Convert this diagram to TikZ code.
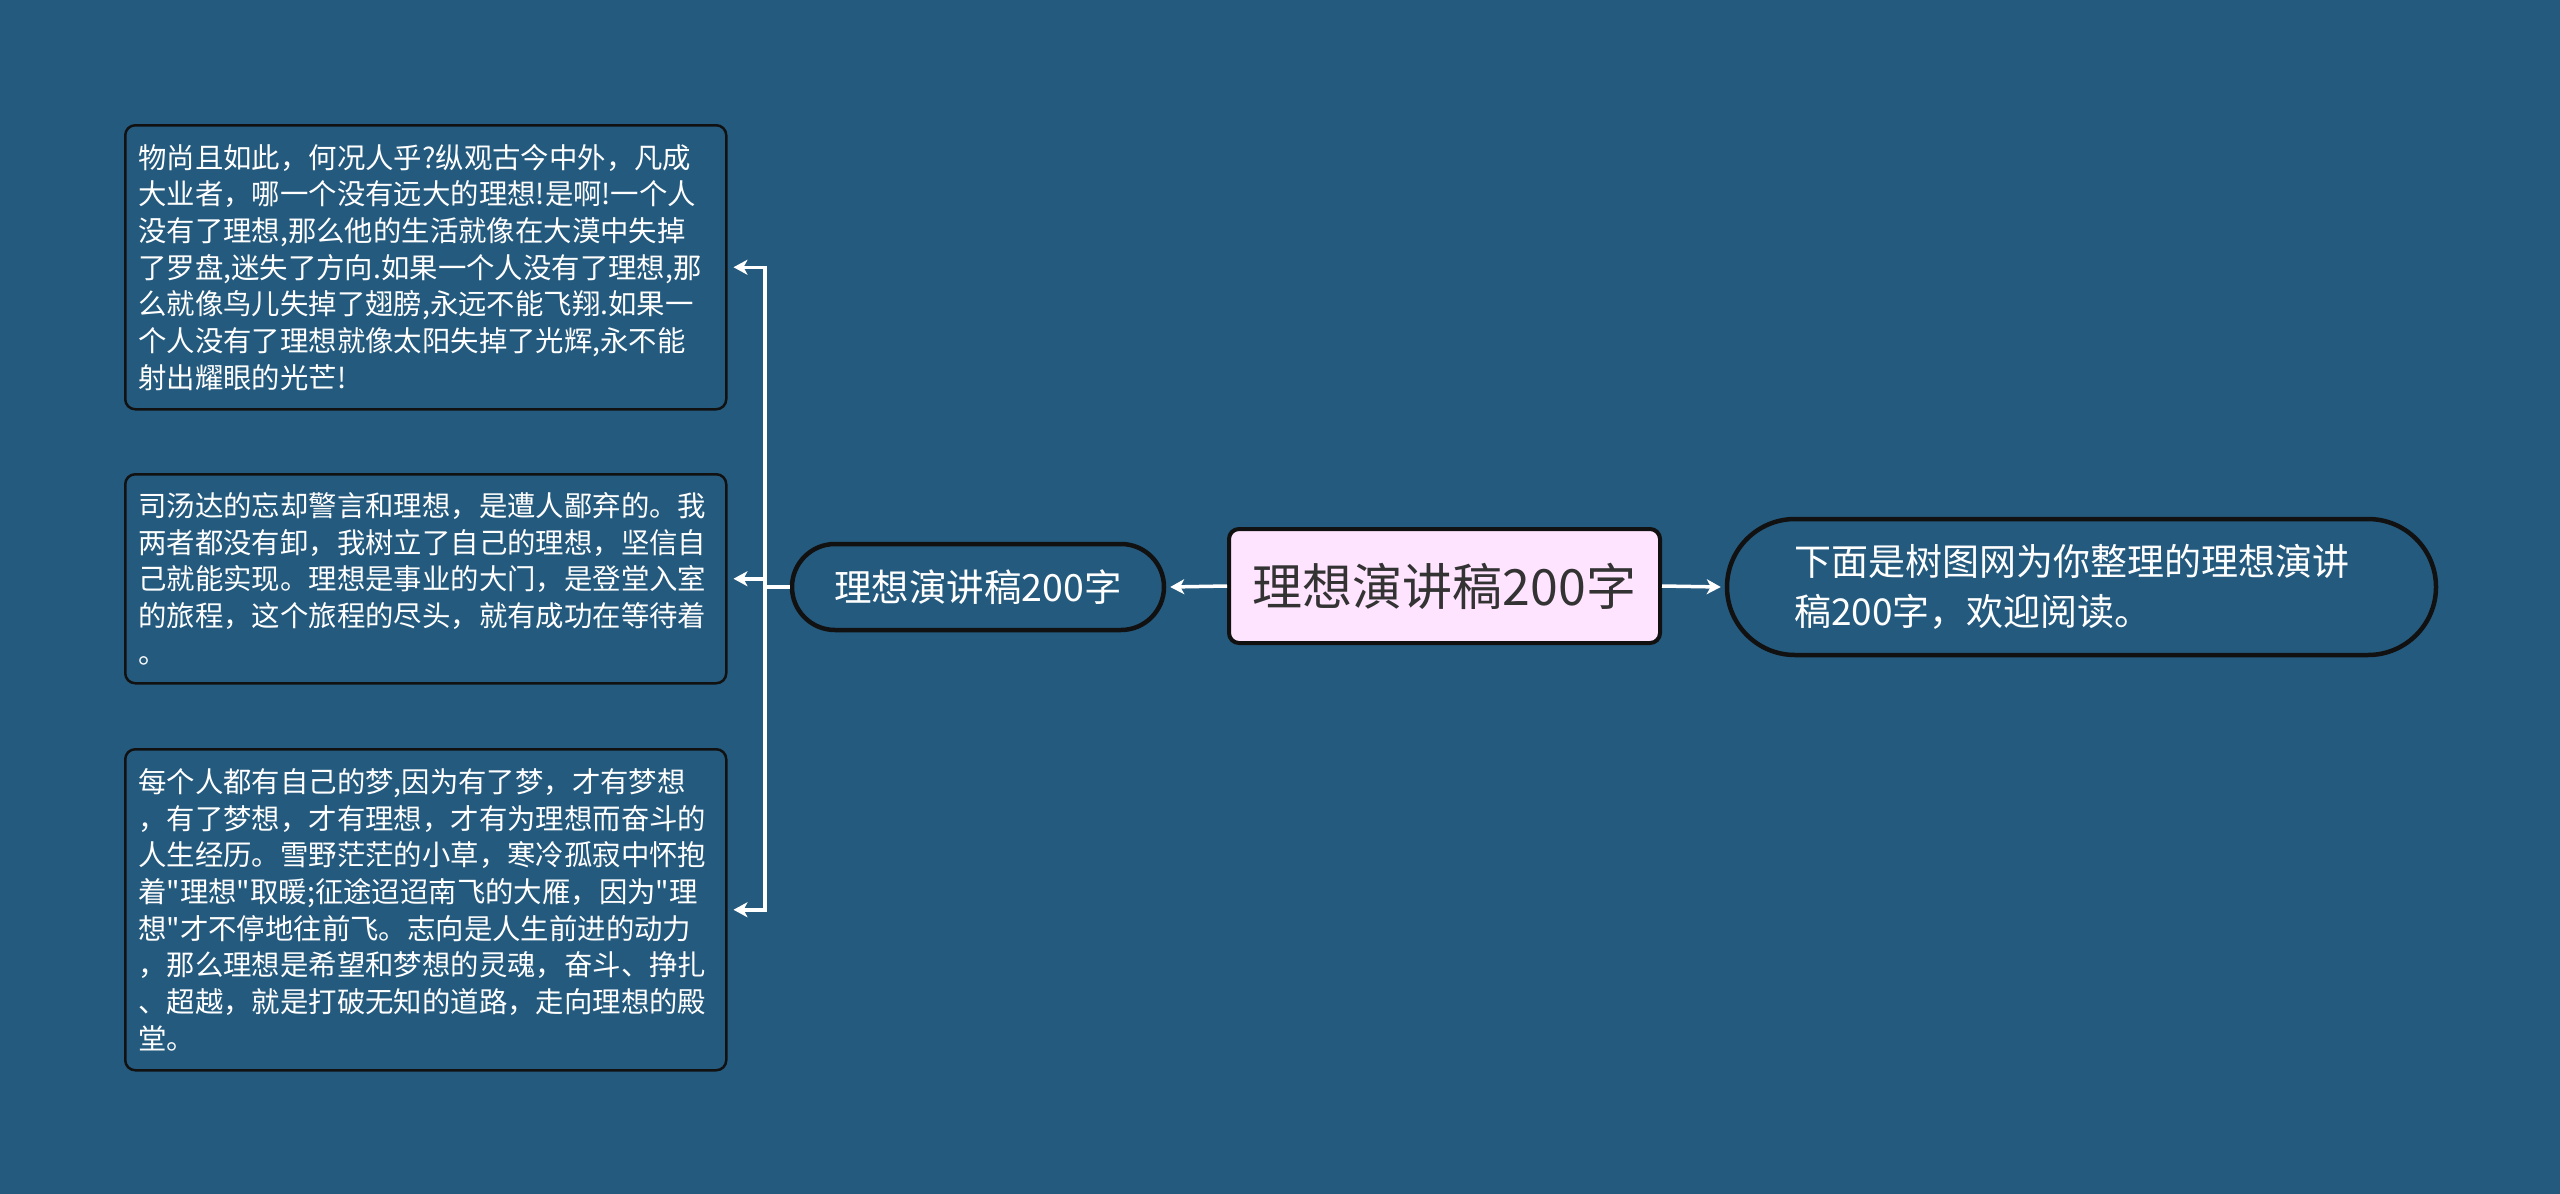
\documentclass[tikz,border=0pt]{standalone}
\usepackage{fontspec}
\setmainfont{Noto Sans CJK SC}[Ligatures=TeXOff]
\usetikzlibrary{arrows.meta}
\definecolor{bg}{HTML}{245A7E}
\definecolor{pinkfill}{HTML}{FFE4FF}
\definecolor{edge}{HTML}{111111}
\tikzset{
  textbox/.style={draw=edge, line width=2.5pt, fill=bg, rounded corners=10pt, anchor=north west,
    text=white, align=left, inner xsep=13pt, inner ysep=10pt, text width=575pt,
    font=\fontsize{28.4}{36.7}\selectfont},
  pill/.style={draw=edge, line width=4.5pt, fill=bg, text=white},
  rootbox/.style={draw=edge, line width=4pt, fill=pinkfill, rounded corners=10pt, text=black!80,
    font=\fontsize{50}{60}\selectfont},
  conn/.style={draw=white, line width=3.5pt},
  arr/.style={conn, -{Stealth[length=14pt,width=15pt,inset=4pt]}}
}
\begin{document}
\begin{tikzpicture}[x=1pt,y=-1pt]
\useasboundingbox (0,0) rectangle (2560,1194);
\fill[bg] (0,0) rectangle (2560,1194);

\node[rootbox, minimum width=431pt, minimum height=114pt] (root) at (1444.5,586) {理想演讲稿200字};

\node[pill, rounded corners=43pt, minimum width=372pt, minimum height=86pt,
  font=\fontsize{37.5}{44}\selectfont] (lnode) at (978,587) {理想演讲稿200字};

\node[pill, rounded corners=68pt, minimum width=709pt, minimum height=136pt, align=left,
  text width=575pt, font=\fontsize{37}{50.6}\selectfont] (rnode) at (2081.5,587)
  {下面是树图网为你整理的理想演讲\\稿200字，欢迎阅读。};

\node[textbox, minimum height=284pt] (b1) at (124,124)
  {物尚且如此，何况人乎?纵观古今中外，凡成\\
   大业者，哪一个没有远大的理想!是啊!一个人\\
   没有了理想,那么他的生活就像在大漠中失掉\\
   了罗盘,迷失了方向.如果一个人没有了理想,那\\
   么就像鸟儿失掉了翅膀,永远不能飞翔.如果一\\
   个人没有了理想就像太阳失掉了光辉,永不能\\
   射出耀眼的光芒!};

\node[textbox, minimum height=209pt] (b2) at (124,473)
  {司汤达的忘却警言和理想，是遭人鄙弃的。我\\
   两者都没有卸，我树立了自己的理想，坚信自\\
   己就能实现。理想是事业的大门，是登堂入室\\
   的旅程，这个旅程的尽头，就有成功在等待着\\
   。};

\node[textbox, minimum height=321pt] (b3) at (124,748)
  {每个人都有自己的梦,因为有了梦，才有梦想\\
   ，有了梦想，才有理想，才有为理想而奋斗的\\
   人生经历。雪野茫茫的小草，寒冷孤寂中怀抱\\
   着"理想"取暖;征途迢迢南飞的大雁，因为"理\\
   想"才不停地往前飞。志向是人生前进的动力\\
   ，那么理想是希望和梦想的灵魂，奋斗、挣扎\\
   、超越，就是打破无知的道路，走向理想的殿\\
   堂。};

\draw[arr] (root.west) -- ([xshift=4pt]lnode.east);
\draw[arr] (root.east) -- ([xshift=-4pt]rnode.west);
\coordinate (jn) at ([xshift=-25pt]lnode.west);
\draw[conn] (lnode.west) -- (jn);
\draw[arr] (jn) |- ([xshift=6pt]b1.east);
\draw[arr] (jn) |- ([xshift=6pt]b2.east);
\draw[arr] (jn) |- ([xshift=6pt]b3.east);
\end{tikzpicture}
\end{document}
